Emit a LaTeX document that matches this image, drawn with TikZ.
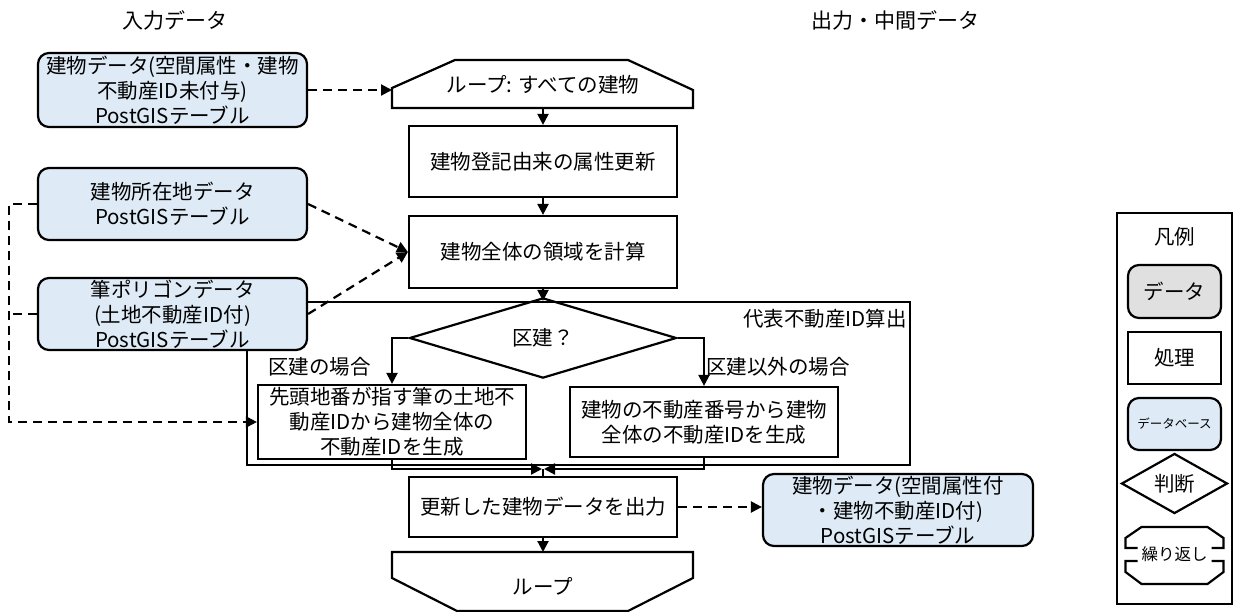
\documentclass[tikz,border=0pt]{standalone}
\usepackage{fontspec}
\setmainfont{Noto Sans CJK JP}
\usetikzlibrary{arrows.meta,shapes.geometric}
\definecolor{dbblue}{HTML}{DEEBF7}
\definecolor{datagray}{HTML}{E0E0E0}
\tikzset{
  txt/.style={font=\fontsize{20.5}{25}\selectfont, align=center, inner sep=0pt},
  proc/.style={txt, draw, line width=2.2pt},
  db/.style={proc, rounded corners=11pt, fill=dbblue},
  outline/.style={draw, line width=2.2pt, line join=miter},
  link/.style={line width=2.2pt, -{Triangle[length=11pt,width=11pt]}},
  dlink/.style={link, dash pattern=on 9pt off 6pt},
  dline/.style={line width=2.2pt, dash pattern=on 9pt off 6pt},
}
\begin{document}
\begin{tikzpicture}[x=1pt,y=-1pt]
\useasboundingbox[fill=white] (0,0) rectangle (1237,612);

% headers
\node[txt, font=\fontsize{21}{25}\selectfont] (hIn) at (175,20) {入力データ};
\node[txt, font=\fontsize{21}{25}\selectfont] (hOut) at (895,20) {出力・中間データ};

% container
\node[outline, inner sep=0pt, minimum width=663pt, minimum height=163pt] (grp) at (578.5,383.5) {};
\node[txt, anchor=north east] (grpL) at (907,309) {代表不動産ID算出};

% input data
\node[db, minimum width=269pt, minimum height=74pt] (A) at (172.5,90) {建物データ(空間属性・建物\\不動産ID未付与)\\PostGISテーブル};
\node[db, minimum width=269pt, minimum height=72pt] (B) at (172.5,204) {建物所在地データ\\PostGISテーブル};
\node[db, minimum width=269pt, minimum height=72pt] (C) at (172.5,314) {筆ポリゴンデータ\\(土地不動産ID付)\\PostGISテーブル};

% loop start
\draw[outline] (392,108) -- (392,88) -- (455,60) -- (628,60) -- (693,90) -- (693,108) -- cycle;
\node[txt] (ls) at (543,85) {ループ: すべての建物};
\coordinate (lsW) at (392,90);
\coordinate (lsS) at (543,108);

% process boxes
\node[proc, minimum width=268pt, minimum height=71pt] (p1) at (543,161.5) {建物登記由来の属性更新};
\node[proc, minimum width=268pt, minimum height=72pt] (p2) at (543,252) {建物全体の領域を計算};
\node[txt, draw, line width=2.2pt, diamond, minimum width=267pt, minimum height=59pt] (dec) at (543,338) {区建？};
\node[proc, minimum width=268pt, minimum height=74pt] (pL) at (392,422) {先頭地番が指す筆の土地不\\動産IDから建物全体の\\不動産IDを生成};
\node[proc, minimum width=268pt, minimum height=70pt] (pR) at (704,422) {建物の不動産番号から建物\\全体の不動産IDを生成};
\node[txt, anchor=west] (lbL) at (268,367) {区建の場合};
\node[txt, anchor=west] (lbR) at (706,367) {区建以外の場合};
\node[proc, minimum width=268pt, minimum height=60pt] (out) at (543,507) {更新した建物データを出力};
\node[db, minimum width=270pt, minimum height=72pt] (D) at (898,510) {建物データ(空間属性付\\・建物不動産ID付)\\PostGISテーブル};

% loop end
\draw[outline] (392,552) -- (693,552) -- (693,578) -- (628,611) -- (457,611) -- (392,578) -- cycle;
\node[txt] (le) at (543,586) {ループ};
\coordinate (leN) at (543,552);

% connectors
\draw[dlink] (A.east) -- (lsW);
\draw[link] (lsS) -- (p1.north);
\draw[link] (p1.south) -- (p2.north);
\draw[link] (p2.south) -- (p2.south |- grp.north);
\draw[dlink] (B.east) -- (p2.west);
\draw[dlink] (C.east) -- (p2.west);
\draw[dlink] (B.west) -- ++(-28,0) |- (pL.west);
\draw[dline] (C.west) -- ++(-28,0);
\draw[link] (dec.west) -| (pL.north);
\draw[link] (dec.east) -| (pR.north);
\coordinate (mg) at (543,469);
\draw[link] (pL.south) |- ([xshift=-1pt]mg);
\draw[link] (pR.south) |- ([xshift=1pt]mg);
\draw[line width=2.2pt] (mg) -- (out.north);
\draw[link] (out.south) -- (leN);
\draw[dlink] (out.east) -- (out.east -| D.west);

% legend
\node[outline, inner sep=0pt, minimum width=115pt, minimum height=391pt] (leg) at (1174.5,408.5) {};
\node[txt] (legT) at (1174.5,237) {凡例};
\node[proc, rounded corners=11pt, fill=datagray, minimum width=93pt, minimum height=53pt] (lg1) at (1174.5,291.5) {データ};
\node[proc, minimum width=93pt, minimum height=52pt] (lg2) at (1174.5,358) {処理};
\node[proc, rounded corners=11pt, fill=dbblue, minimum width=93pt, minimum height=52pt, font=\fontsize{12.5}{14}\selectfont] (lg3) at (1174.5,424) {データベース};
\node[txt, draw, line width=2.2pt, diamond, minimum width=106pt, minimum height=42pt] (lg4) at (1174.5,483.5) {判断};
\draw[outline] (1137.5,548) -- (1125.5,548) -- (1125.5,538) -- (1141.5,527) -- (1207.5,527) -- (1223.5,538) -- (1223.5,548) -- (1211.5,548);
\draw[outline] (1137.5,561) -- (1125.5,561) -- (1125.5,572) -- (1141.5,584) -- (1207.5,584) -- (1223.5,572) -- (1223.5,561) -- (1211.5,561);
\node[txt, font=\fontsize{16.5}{18}\selectfont] (lg5) at (1174.5,554.5) {繰り返し};
\end{tikzpicture}
\end{document}
